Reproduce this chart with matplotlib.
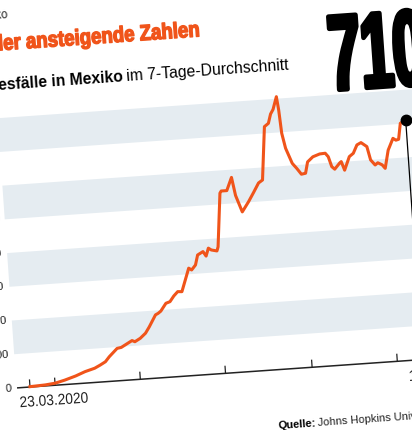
import matplotlib
matplotlib.use("Agg")
from matplotlib import pyplot as plt
from matplotlib import font_manager as fm
from matplotlib.patches import Rectangle
from matplotlib.patheffects import AbstractPathEffect
from matplotlib.textpath import TextPath
from matplotlib.transforms import Affine2D

# ---------------------------------------------------------------------------
# Data: days since 05.03.2020 and 7-day average deaths
# ---------------------------------------------------------------------------
days = [0, 11, 18, 25, 33, 40, 47, 51, 55, 58, 64, 67, 71, 75, 77, 81, 85, 88,
        93, 95, 97, 101, 104, 107, 110, 113, 116, 119, 121, 124, 126, 130, 132,
        134, 136, 140, 141, 145, 146, 150, 154, 156, 160, 165, 169, 173, 176,
        180, 183, 185, 187, 190, 191, 192, 194, 198, 201, 204, 207, 209, 213,
        218, 222, 224, 226, 228, 232, 233, 235, 239, 242, 245, 248, 252, 254,
        257, 259, 262, 264, 267, 271, 273, 275, 277, 281]
deaths = [1, 3, 6, 13, 23, 34, 42, 50, 59, 73, 96, 98, 107, 116, 112, 121, 135,
          153, 187, 191, 197, 219, 223, 239, 251, 250, 284, 318, 312, 326, 355,
          364, 350, 373, 367, 363, 375, 533, 539, 539, 577, 523, 473, 502, 528,
          555, 563, 720, 729, 756, 769, 806, 766, 697, 652, 606, 590, 572, 574,
          607, 621, 628, 629, 618, 588, 580, 598, 601, 575, 614, 623, 647, 653,
          640, 600, 584, 590, 583, 572, 625, 659, 653, 655, 702, 710]

y_ticks = [0, 100, 200, 300, 400, 500, 600, 700, 800, 900]
bands = [(100, 200), (300, 400), (500, 600), (700, 800)]
tick_days = [0, 18, 79, 140, 202, 263]
first_label = "23.03.2020"
last_label = "11.12.2020"

title = "Wieder ansteigende Zahlen"
kicker = "Coronavirus in Mexiko"
sub_bold = "Todesfälle in Mexiko"
sub_rest = "im 7-Tage-Durchschnitt"
source_bold = "Quelle:"
source_rest = "Johns Hopkins University"

# ---------------------------------------------------------------------------
# Styles / geometry
# ---------------------------------------------------------------------------
ORANGE = "#f0541a"
BAND = "#e5ecf1"
DARK = "#222222"
ANGLE = 4.0            # the whole graphic is tilted
PX_DAY = 1.4           # pixels per day
PX_DEATH = 0.338       # pixels per death
OX, OY = 30, 43        # origin of the plot (first day, value 0) in pixels


class Squeeze(AbstractPathEffect):
    """Draw text narrower (condensed look), optionally fattened by a stroke."""

    def __init__(self, sx, lw=0.0):
        super().__init__()
        self.sx = sx
        self.lw = lw

    def draw_path(self, renderer, gc, tpath, affine, rgbFace=None):
        aff = Affine2D().scale(self.sx, 1.0) + affine
        gc0 = renderer.new_gc()
        gc0.copy_properties(gc)
        gc0.set_linewidth(self.lw)
        if self.lw > 0:
            gc0.set_foreground(rgbFace)
            gc0.set_joinstyle("round")
        renderer.draw_path(gc0, tpath, aff, rgbFace)
        gc0.restore()


bold_prop = fm.FontProperties(family="Liberation Sans", weight="bold")

plt.rcParams["font.family"] = ["Liberation Sans", "DejaVu Sans"]

fig = plt.figure(figsize=(4.12, 4.30), dpi=100)
ax = fig.add_axes([0, 0, 1, 1])
ax.set_axis_off()
ax.set_xlim(-OX / PX_DAY, (412 - OX) / PX_DAY)
ax.set_ylim(-OY / PX_DEATH, (430 - OY) / PX_DEATH)

rot = Affine2D().rotate_deg_around(OX, OY, ANGLE)
T = ax.transData + rot                        # data coordinates, tilted
P = Affine2D().translate(OX, OY) + rot        # pixel offsets from origin, tilted


def label(u, v, s, **kw):
    return ax.text(u, v, s, transform=P, va="baseline", rotation=ANGLE,
                   rotation_mode="anchor", **kw)


# bands
x0 = -13.5 / PX_DAY
for lo, hi in bands:
    ax.add_patch(Rectangle((x0, lo), 400, hi - lo, facecolor=BAND, edgecolor="none",
                           transform=T, clip_on=False, zorder=1))

# y tick labels
for val in y_ticks:
    ax.text(-19 / PX_DAY, val, f"{val}", transform=T, ha="right", va="center",
            rotation=ANGLE, rotation_mode="anchor", fontsize=8, color=DARK)

# base line and ticks
ax.plot([-13 / PX_DAY, 400], [0, 0], color=DARK, lw=1.1, transform=T,
        clip_on=False, zorder=3, solid_capstyle="butt")
for d in tick_days:
    ax.plot([d, d], [0, 7 / PX_DEATH], color=DARK, lw=0.9, transform=T,
            clip_on=False, zorder=3)

date_fx = [Squeeze(0.9)]
label(-11.5, -19.5, first_label, ha="left", fontsize=11, color=DARK, path_effects=date_fx)
label(378.5, -20.5, last_label, ha="left", fontsize=11, color=DARK, path_effects=date_fx)

# the series
ax.plot(days, deaths, color=ORANGE, lw=2.2, transform=T, clip_on=False, zorder=4,
        solid_joinstyle="round")
ax.plot([days[-1], days[-1]], [0, deaths[-1]], color="black", lw=0.9, transform=T,
        clip_on=False, zorder=5)
ax.plot([days[-1]], [deaths[-1]], "o", color="black", ms=7.5, transform=T,
        clip_on=False, zorder=6)

# big number
label(321, 275, f"{deaths[-1]}", ha="left", fontproperties=bold_prop, fontsize=77,
      color="black", path_effects=[Squeeze(0.54, lw=3.4)])

# headings
label(4, 369.5, kicker, ha="right", fontsize=8.3, color=DARK)

title_size = 15.8
title_sx = 0.85
title_w = TextPath((0, 0), title, size=title_size * 100 / 72, prop=bold_prop).get_extents().x1
label(193 - title_sx * title_w, 338, title, ha="left", fontproperties=bold_prop,
      fontsize=title_size, color=ORANGE, path_effects=[Squeeze(title_sx, lw=1.0)])

label(114, 298, sub_bold, ha="right", fontsize=11.3, fontweight="bold", color="black")
label(118, 298, sub_rest, ha="left", fontsize=11.3, color="black")

# source
label(244.5, -59, source_bold, ha="left", fontsize=8, fontweight="bold", color="black")
label(284.5, -59, source_rest, ha="left", fontsize=8, color=DARK)

fig.savefig("out.png", dpi=100, facecolor="white")
